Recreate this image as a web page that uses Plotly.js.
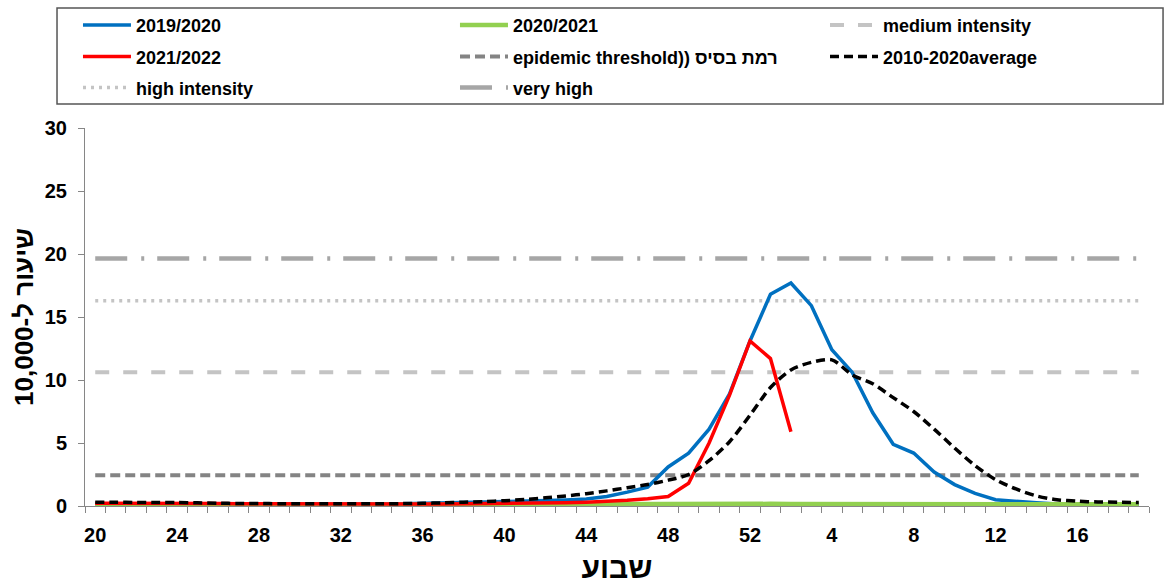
<!DOCTYPE html>
<html>
<head>
<meta charset="utf-8">
<script src="https://cdn.plot.ly/plotly-3.0.1.min.js"></script>
<style>html,body{margin:0;padding:0;background:#fff;}#chart{width:1166px;height:584px;}</style>
</head>
<body>
<div id="chart"></div>
<script>
const weeks = ['20','21','22','23','24','25','26','27','28','29','30','31','32','33','34','35','36','37','38','39','40','41','42','43','44','45','46','47','48','49','50','51','52',
  '1','2','3','4','5','6','7','8','9','10','11','12','13','14','15','16','17','18','19'];
const tickLabelWeeks = ['20','24','28','32','36','40','44','48','52','4','8','12','16'];

const season2019_2020 = [0.15,0.15,0.12,0.12,0.1,0.12,0.12,0.12,0.12,0.12,
  0.12,0.12,0.15,0.15,0.15,0.18,0.2,0.25,0.3,0.32,
  0.35,0.38,0.42,0.48,0.55,0.75,1.1,1.5,3.1,4.2,
  6.1,8.9,13.1,
  16.8,17.7,15.9,12.4,10.6,7.4,4.9,4.2,2.7,1.7,
  1.0,0.5,0.35,0.25,0.15,0.1,0.05,0.05,0.05];
const season2020_2021 = [0.05,0.05,0.05,0.05,0.05,0.05,0.05,0.05,0.05,0.05,
  0.05,0.05,0.05,0.05,0.06,0.07,0.08,0.09,0.1,0.1,
  0.11,0.12,0.13,0.14,0.15,0.16,0.17,0.18,0.19,0.19,
  0.19,0.18,0.18,
  0.17,0.16,0.16,0.15,0.15,0.15,0.16,0.16,0.17,0.18,
  0.18,0.18,0.18,0.17,0.16,0.15,0.14,0.14,0.13];
const season2021_2022 = [0.22,0.22,0.22,0.24,0.26,0.24,0.2,0.18,0.17,0.16,
  0.15,0.15,0.15,0.15,0.15,0.15,0.15,0.16,0.17,0.18,
  0.2,0.22,0.24,0.26,0.3,0.35,0.45,0.58,0.75,1.8,
  5.0,8.8,13.1,
  11.7,5.9,null,null,null,null,null,null,null,null,
  null,null,null,null,null,null,null,null,null];
const average2010_2020 = [0.3,0.3,0.28,0.27,0.27,0.25,0.22,0.2,0.2,0.18,
  0.18,0.17,0.17,0.17,0.18,0.19,0.21,0.25,0.3,0.35,
  0.42,0.52,0.65,0.8,0.98,1.2,1.45,1.7,2.05,2.5,
  3.6,5.1,7.2,
  9.4,10.8,11.4,11.6,10.4,9.7,8.6,7.5,6.1,4.6,
  3.2,2.1,1.35,0.8,0.5,0.38,0.32,0.3,0.28];

const epidemicThreshold = 2.44;
const mediumIntensity = 10.62;
const highIntensity = 16.28;
const veryHighIntensity = 19.64;

const xIdx = weeks.map((w, i) => i);
const constSeries = v => weeks.map(() => v);
const tickvals = tickLabelWeeks.map(w => weeks.indexOf(w));

const FONT = 'Liberation Sans, Arial, sans-serif';
const legendFont = {family: FONT, size: 18, color: '#000', weight: 'bold'};

const traces = [
  {name: 'very high', y: constSeries(veryHighIntensity), line: {color: '#a6a6a6', width: 4.5, dash: '32px,14px,3px,13px'}, legend: 'legend3', legendrank: 2, legendwidth: 307},
  {name: 'high intensity', y: constSeries(highIntensity), line: {color: '#c4c4c4', width: 3.5, dash: '3px,5px'}, legend: 'legend3', legendrank: 1, legendwidth: 314},
  {name: 'medium intensity', y: constSeries(mediumIntensity), line: {color: '#c4c4c4', width: 4, dash: '14px,14px'}, legend: 'legend', legendrank: 3, legendwidth: 230},
  {name: 'epidemic threshold)) רמת בסיס', y: constSeries(epidemicThreshold), line: {color: '#848484', width: 4, dash: '10px,5px'}, legend: 'legend2', legendrank: 2, legendwidth: 307},
  {name: '2019/2020', y: season2019_2020, line: {color: '#0070C0', width: 3.5}, legend: 'legend', legendrank: 1, legendwidth: 314},
  {name: '2020/2021', y: season2020_2021, line: {color: '#92D050', width: 4.5}, legend: 'legend', legendrank: 2, legendwidth: 307},
  {name: '2021/2022', y: season2021_2022, line: {color: '#FF0000', width: 3.5}, legend: 'legend2', legendrank: 1, legendwidth: 314},
  {name: '2010-2020average', y: average2010_2020, line: {color: '#000000', width: 3.5, dash: '9px,5px', shape: 'spline', smoothing: 0.8}, legend: 'legend2', legendrank: 3, legendwidth: 230}
].map(t => Object.assign({type: 'scatter', mode: 'lines', x: xIdx, hoverinfo: 'skip', connectgaps: false}, t));

const legendBase = {orientation: 'h', xref: 'paper', yref: 'paper', xanchor: 'left', yanchor: 'top',
  bgcolor: 'rgba(0,0,0,0)', borderwidth: 0, font: legendFont, itemwidth: 48, traceorder: 'normal', itemclick: false, itemdoubleclick: false};

const layout = {
  width: 1166, height: 584,
  margin: {l: 85, r: 17, t: 128, b: 78, autoexpand: false},
  paper_bgcolor: '#fff', plot_bgcolor: '#fff',
  font: {family: FONT, color: '#000'},
  hovermode: false,
  showlegend: true,
  legend: Object.assign({}, legendBase, {x: -0.0066, y: 1.3209}),
  legend2: Object.assign({}, legendBase, {x: -0.0066, y: 1.2373}),
  legend3: Object.assign({}, legendBase, {x: -0.0066, y: 1.1553}),
  xaxis: {
    range: [-0.5, 51.5], tickmode: 'array', tickvals: tickvals, ticktext: tickLabelWeeks,
    ticks: '', showgrid: false, zeroline: false, showline: true, linecolor: '#868686', linewidth: 1,
    minor: {ticks: 'outside', ticklen: 6, tickcolor: '#868686', tick0: -0.5, dtick: 1, showgrid: false},
    tickfont: {family: FONT, size: 20, weight: 'bold', color: '#000'},
    ticklabelstandoff: 11,
    title: {text: 'שבוע', font: {family: FONT, size: 30, weight: 'bold', color: '#000'}, standoff: 21},
    fixedrange: true
  },
  yaxis: {
    range: [0, 30], tickmode: 'array', tickvals: [0,5,10,15,20,25,30],
    ticks: 'outside', ticklen: 6, tickcolor: '#868686', showgrid: false, zeroline: false,
    showline: true, linecolor: '#868686', linewidth: 1,
    tickfont: {family: FONT, size: 20, weight: 'bold', color: '#000'},
    ticklabelstandoff: 7,
    title: {text: 'שיעור ל-10,000', font: {family: FONT, size: 26, weight: 'bold', color: '#000'}, standoff: 3},
    fixedrange: true
  },
  shapes: [
    {type: 'rect', xref: 'paper', yref: 'paper', x0: -0.0263, x1: 1.0132, y0: 1.0635, y1: 1.3175,
      line: {color: '#555', width: 1.5}, fillcolor: 'rgba(0,0,0,0)', layer: 'below'}
  ]
};

Plotly.newPlot('chart', traces, layout, {displayModeBar: false, staticPlot: true});
</script>
</body>
</html>
